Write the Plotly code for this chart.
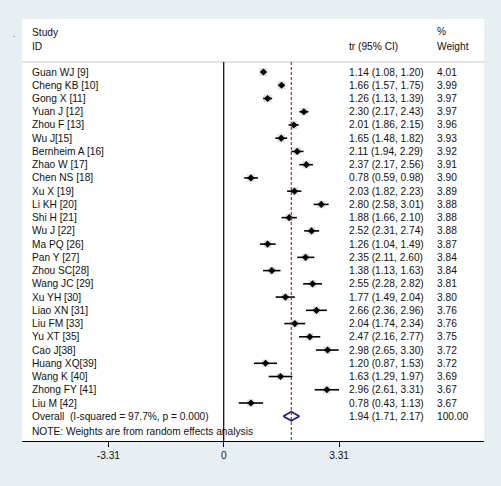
import plotly.graph_objects as go

studies = ["Guan WJ [9]", "Cheng KB [10]", "Gong X [11]", "Yuan J [12]", "Zhou F [13]",
           "Wu J[15]", "Bernheim A [16]", "Zhao W [17]", "Chen NS [18]", "Xu X [19]",
           "Li KH [20]", "Shi H [21]", "Wu J [22]", "Ma PQ [26]", "Pan Y [27]",
           "Zhou SC[28]", "Wang JC [29]", "Xu YH [30]", "Liao XN [31]", "Liu FM [33]",
           "Yu XT [35]", "Cao J[38]", "Huang XQ[39]", "Wang K [40]", "Zhong FY [41]",
           "Liu M [42]"]
est = [1.14, 1.66, 1.26, 2.30, 2.01, 1.65, 2.11, 2.37, 0.78, 2.03, 2.80, 1.88, 2.52,
       1.26, 2.35, 1.38, 2.55, 1.77, 2.66, 2.04, 2.47, 2.98, 1.20, 1.63, 2.96, 0.78]
lo = [1.08, 1.57, 1.13, 2.17, 1.86, 1.48, 1.94, 2.17, 0.59, 1.82, 2.58, 1.66, 2.31,
      1.04, 2.11, 1.13, 2.28, 1.49, 2.36, 1.74, 2.16, 2.65, 0.87, 1.29, 2.61, 0.43]
hi = [1.20, 1.75, 1.39, 2.43, 2.15, 1.82, 2.29, 2.56, 0.98, 2.23, 3.01, 2.10, 2.74,
      1.49, 2.60, 1.63, 2.82, 2.04, 2.96, 2.34, 2.77, 3.30, 1.53, 1.97, 3.31, 1.13]
weights = [4.01, 3.99, 3.97, 3.97, 3.96, 3.93, 3.92, 3.91, 3.90, 3.89, 3.88, 3.88, 3.88,
           3.87, 3.84, 3.84, 3.81, 3.80, 3.76, 3.76, 3.75, 3.72, 3.72, 3.69, 3.67, 3.67]
overall_label = "Overall  (I-squared = 97.7%, p = 0.000)"
overall_est, overall_lo, overall_hi, overall_w = 1.94, 1.71, 2.17, 100.00
tick_vals = [-3.31, 0, 3.31]
tick_text = ["-3.31", "0", "3.31"]
note = "NOTE: Weights are from random effects analysis"

rows = list(range(len(studies)))
orow = len(studies)

FONT = "Liberation Sans, Arial, sans-serif"
FS = 10.2
BG = "#e8eff3"
fig = go.Figure()

# weight boxes
fig.add_trace(go.Scatter(
    x=est, y=rows, mode="markers",
    marker=dict(symbol="square", size=[w * 2.0 for w in weights], color="#d4d4d4",
                line=dict(width=0)),
    hoverinfo="skip", showlegend=False))
# CI + point
fig.add_trace(go.Scatter(
    x=est, y=rows, mode="markers",
    marker=dict(symbol="diamond", size=5.5, color="black"),
    error_x=dict(type="data", symmetric=False,
                 array=[h - e for h, e in zip(hi, est)],
                 arrayminus=[e - l for e, l in zip(est, lo)],
                 color="black", thickness=1.6, width=0),
    showlegend=False))
# overall diamond
dh = 0.34
fig.add_trace(go.Scatter(
    x=[overall_lo, overall_est, overall_hi, overall_est, overall_lo],
    y=[orow, orow - dh, orow, orow + dh, orow],
    mode="lines", line=dict(color="#1a1a8c", width=1.6), showlegend=False))

ytop = -4.003
ybot = 27.87

shapes = [
    dict(type="line", xref="paper", yref="y", x0=0, x1=1, y0=-0.755, y1=-0.755,
         line=dict(color="#c8c8c8", width=1.2)),
    dict(type="line", xref="x", yref="y", x0=0, x1=0, y0=-0.755, y1=ybot,
         line=dict(color="black", width=1.2)),
    dict(type="line", xref="x", yref="y", x0=overall_est, x1=overall_est, y0=-0.755, y1=ybot,
         line=dict(color="#a0303a", width=1.2, dash="3px,2px")),
]

ann = []
def txt(x, y, s, xref="x"):
    ann.append(dict(x=x, y=y, xref=xref, yref="y", text=s, showarrow=False,
                    xanchor="left", yanchor="middle",
                    font=dict(family=FONT, size=FS, color="#111111")))

xs_lab = -5.558
xs_ci = 3.537
xs_w = 6.06
txt(xs_lab, -2.95, "Study")
txt(xs_lab, -1.96, "ID")
txt(xs_ci, -1.96, "tr (95% CI)")
txt(xs_w, -3.05, "%")
txt(xs_w, -1.96, "Weight")
for i, s in enumerate(studies):
    txt(xs_lab, i, s)
    txt(xs_ci, i, f"{est[i]:.2f} ({lo[i]:.2f}, {hi[i]:.2f})")
    txt(xs_w, i, f"{weights[i]:.2f}")
txt(xs_lab, orow, overall_label)
txt(xs_ci, orow, f"{overall_est:.2f} ({overall_lo:.2f}, {overall_hi:.2f})")
txt(xs_w, orow, f"{overall_w:.2f}")
txt(xs_lab, 27.15, note)
ann.append(dict(x=-0.016, y=0.965, xref="paper", yref="paper", text=".", showarrow=False,
                xanchor="center", yanchor="middle",
                font=dict(family=FONT, size=9, color="#555555")))

fig.update_layout(
    width=501, height=486,
    margin=dict(l=22, r=17, t=19, b=45),
    paper_bgcolor=BG, plot_bgcolor="white",
    shapes=shapes, annotations=ann,
    xaxis=dict(range=[-5.788, 7.469], tickvals=tick_vals, ticktext=tick_text,
               showgrid=False, zeroline=False, showline=True, linecolor="black",
               linewidth=1.2, ticks="outside", ticklen=5, tickcolor="black",
               tickfont=dict(family=FONT, size=FS, color="#111111")),
    yaxis=dict(range=[ybot, ytop], visible=False, showgrid=False, zeroline=False),
)

fig.write_html("out.html", config={"displayModeBar": False},
               post_script="document.body.style.margin='0';document.body.style.background='%s';" % BG)
